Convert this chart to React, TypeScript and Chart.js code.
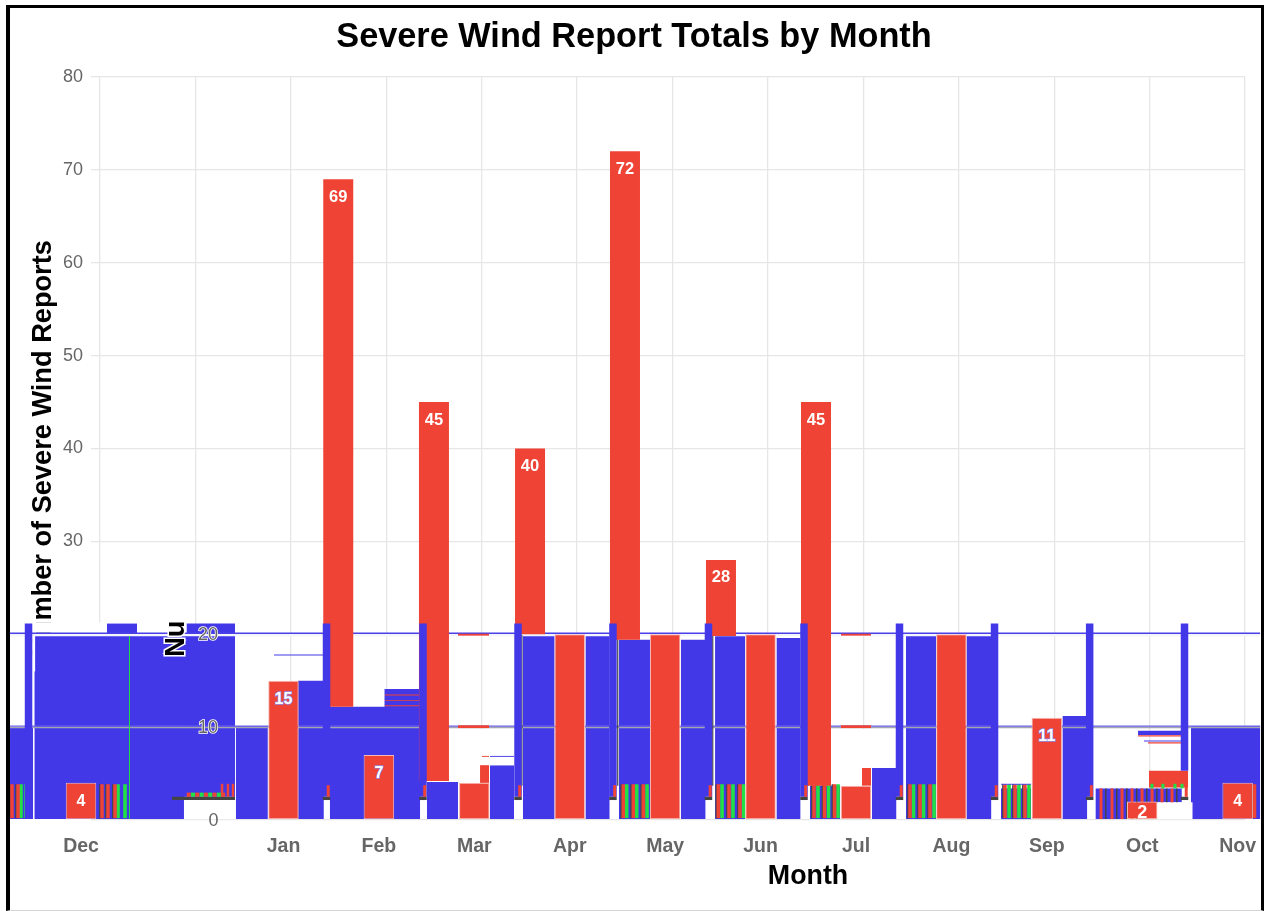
import React, { useEffect, useRef } from "react";
import { Chart, registerables } from "chart.js";

Chart.register(...registerables);

// Month labels and where each month's group sits on the month axis
const monthLabels = ["Dec", "Jan", "Feb", "Mar", "Apr", "May", "Jun", "Jul", "Aug", "Sep", "Oct", "Nov"];
const monthPositions = [-0.199, 1.923, 2.923, 3.923, 4.923, 5.923, 6.923, 7.923, 8.923, 9.923, 10.923, 11.923];

// Severe wind report counts
const groupRedValues = [4, 15, 7, 4, 20, 20, 20, 3.7, 20, 11, 2, 4];
const groupRedLabels = ["4", "15", "7", "", "", "", "", "", "", "11", "2", "4"];
const tallRedPositions = [2.497, 3.5, 4.507, 5.502, 6.508, 7.504];
const tallRedValues = [69, 45, 40, 72, 28, 45];
const tallRedFloors = [12.2, 4.2, 20, 19.4, 19.8, 3.7];

// Narrow blue columns
const stubPositions = [-0.749, 2.374, 3.385, 4.381, 5.376, 6.377, 7.378, 8.379, 9.375, 10.372, 11.366];
const stubFloors = [0.1, 2.5, 2.5, 2.5, 2.5, 2.5, 2.5, 2.5, 2.5, 2.5, 5.3];

// [month start, month end, low value, high value]
type Block = [number, number, number, number];
const blueBlocks: Block[] = [
  [-0.943, -0.702, 0.1, 10],
  [-0.686, 0.32, 0.1, 19.8],
  [0.073, 0.388, 19, 21.15],
  [0.3, 0.885, 0.1, 19.9],
  [0.875, 0.915, 2.5, 19.9],
  [0.909, 1.415, 2.5, 21.15],
  [1.425, 1.758, 0.1, 10.1],
  [2.075, 2.345, 0.1, 15],
  [2.41, 2.992, 0.1, 12.2],
  [2.982, 3.354, 0.1, 14.1],
  [3.427, 3.752, 0.1, 4.1],
  [4.087, 4.339, 0.1, 5.9],
  [4.433, 4.763, 0.1, 20],
  [5.09, 5.34, 0.1, 20],
  [5.439, 5.764, 0.1, 19.4],
  [6.089, 6.345, 0.1, 19.4],
  [6.446, 6.76, 0.1, 19.8],
  [7.092, 7.34, 0.1, 19.6],
  [7.441, 7.756, 0.1, 3.7],
  [8.091, 8.345, 0.1, 5.6],
  [8.447, 8.762, 0.1, 19.8],
  [9.083, 9.34, 0.1, 19.8],
  [9.443, 9.757, 0.1, 3.4],
  [10.089, 10.345, 0.1, 11.2],
  [10.435, 10.765, 0.1, 3.4],
  [10.755, 11.337, 1.9, 3.4],
  [11.434, 12.158, 0.1, 10.1],
];
const whiteBlocks: Block[] = [
  [0.88, 1.415, 0, 2.15],
  [-0.702, 0.073, 20.15, 21.3],
  [-0.712, -0.68, 16, 21.3],
  [3.658, 4.339, 5.9, 9.8],
  [3.658, 3.983, 4.1, 5.9],
  [7.766, 8.342, 5.6, 9.8],
  [7.766, 7.986, 3.7, 5.6],
  [11.085, 11.45, 0, 1.9],
];
const redBlocks: Block[] = [
  [3.983, 4.077, 4, 5.9],
  [7.986, 8.08, 3.7, 5.6],
  [3.752, 4.077, 19.85, 20.05],
  [3.752, 4.077, 9.9, 10.2],
  [7.766, 8.08, 19.85, 20.05],
  [7.766, 8.08, 9.9, 10.2],
  [10.994, 11.403, 3.5, 5.3],
  [10.879, 11.403, 9, 9.12],
  [10.983, 11.403, 8.25, 8.37],
  [2.987, 3.354, 13.4, 13.5],
  [2.987, 3.354, 12.8, 12.9],
  [2.987, 3.354, 12.25, 12.35],
  [4.003, 4.077, 6.8, 6.9],
];
const blueThinBlocks: Block[] = [
  [1.824, 2.34, 17.7, 17.82],
  [4.087, 4.339, 6.8, 6.9],
  [10.879, 11.337, 9.15, 9.6],
  [10.941, 11.337, 8.45, 8.55],
  [9.443, 9.757, 3.8, 3.9],
];
const ruleBlocks: [number, number, number, number, string][] = [
  [-0.943, 12.158, 20.02, 20.2, "#4a40ea"],
  [-0.943, 12.158, 19.78, 20.02, "#f4f4fb"],
  [-0.943, 12.158, 10.05, 10.17, "#6a60ea"],
  [-0.943, 12.158, 9.88, 10.05, "#a4a4b0"],
];
const darkBlocks: Block[] = [[0.755, 1.415, 2.15, 2.5]];

// Striped clusters along the baseline
const redStripes = [-0.922, -0.859, -0.744, 0.021, 0.084, 0.157, 5.484, 5.589, 5.694, 6.48, 6.592, 6.707, 7.483, 7.593, 7.698, 8.489, 8.594, 8.699, 9.485, 9.59, 9.694, 12.1];
const greenStripes = [-0.828, -0.776, 0.189, 0.262, 5.52, 5.625, 5.733, 6.519, 6.634, 6.744, 7.525, 7.635, 7.735, 8.526, 8.631, 8.741, 9.527, 9.631, 9.736];
const octStripes = [10.491, 10.606, 10.711, 10.816, 10.921, 11.026, 11.13, 11.235];
const octStripeFloors = [0.1, 0.1, 0.1, 0.1, 1.9, 1.9, 1.9, 1.9];
const octDashes = [11.025, 11.14, 11.266, 11.34];
const shortRedStripes = [0.93, 1.02, 1.11, 1.2, 1.29];
const shortGreenStripes = [0.975, 1.065, 1.155, 1.245];
const tallEdgeStripes = [1.279, 1.341, 1.394];
const darkVerticals = [4.422, 5.426, 6.422, 7.42];
const greenVerticals = [0.309];

const BLUE = "#4338e8";
const RED = "#ee4335";
const GREEN = "#22e045";
const DARK = "#444444";
const PX_PER_MONTH = 95.417;

function blockDataset(b: Block, color: string, layer: number) {
  return {
    type: "bar" as const,
    stack: "all",
    clip: false,
    order: 100 - layer,
    backgroundColor: color,
    borderWidth: 0,
    inflateAmount: 0,
    barThickness: (b[1] - b[0]) * PX_PER_MONTH,
    data: [{ x: (b[0] + b[1]) / 2, y: [b[2], b[3]] }],
  };
}
function columnDataset(xs: number[], lows: number[], highs: number[], width: number, color: string, layer: number, extra: object = {}) {
  return {
    type: "bar" as const,
    stack: "all",
    clip: false,
    order: 100 - layer,
    backgroundColor: color,
    borderWidth: 0,
    inflateAmount: 0,
    barThickness: width,
    data: xs.map((x, i) => ({ x, y: [lows[i], highs[i]] })),
    ...extra,
  };
}
const same = (xs: number[], v: number) => xs.map(() => v);

const datasets: any[] = [
  ...blueBlocks.map((b) => blockDataset(b, BLUE, 0)),
  ...whiteBlocks.map((b) => blockDataset(b, "#ffffff", 1)),
  ...ruleBlocks.map((b) => blockDataset([b[0], b[1], b[2], b[3]], b[4], 2)),
  ...darkBlocks.map((b) => blockDataset(b, DARK, 3)),
  columnDataset(redStripes, same(redStripes, 0.2), same(redStripes, 3.85), 3.5, RED, 3),
  columnDataset(redStripes.map((x) => x - 0.022), same(redStripes, 0.2), same(redStripes, 3.85), 1.6, DARK, 3),
  columnDataset(greenStripes, same(greenStripes, 0.2), same(greenStripes, 3.85), 3.6, GREEN, 3),
  columnDataset(greenVerticals, same(greenVerticals, 0.1), same(greenVerticals, 19.8), 1, GREEN, 3),
  columnDataset(octStripes, octStripeFloors, same(octStripes, 3.4), 3, RED, 3),
  columnDataset(octStripes.map((x) => x + 0.05), octStripeFloors, same(octStripes, 3.4), 1.5, DARK, 3),
  columnDataset(octDashes, same(octDashes, 3.4), same(octDashes, 3.9), 3, GREEN, 7),
  columnDataset(shortRedStripes, same(shortRedStripes, 2.5), same(shortRedStripes, 2.95), 4, RED, 4),
  columnDataset(shortGreenStripes, same(shortGreenStripes, 2.5), same(shortGreenStripes, 2.95), 4, GREEN, 4),
  columnDataset(tallEdgeStripes, same(tallEdgeStripes, 2.5), same(tallEdgeStripes, 3.9), 2.5, RED, 4),
  columnDataset(darkVerticals, same(darkVerticals, 3.7), same(darkVerticals, 19.9), 1.2, DARK, 3),
  columnDataset(tallRedPositions, tallRedFloors, tallRedValues, 30, RED, 5),
  columnDataset(monthPositions, same(monthPositions, 0), groupRedValues, 30.5, RED, 5, {
    borderWidth: 1,
    borderColor: "#f6b9b2",
    borderSkipped: false,
  }),
  columnDataset(stubPositions, stubFloors, same(stubPositions, 21.15), 7.5, BLUE, 6),
  columnDataset(stubPositions.slice(1).map((x) => x + 0.018), same(stubPositions.slice(1), 2.5), same(stubPositions.slice(1), 3.75), 3, RED, 6.5),
  columnDataset(stubPositions.slice(1), same(stubPositions.slice(1), 2.15), same(stubPositions.slice(1), 2.5), 7.5, DARK, 6.5),
  ...redBlocks.map((b) => blockDataset(b, RED, 6)),
  ...blueThinBlocks.map((b) => blockDataset(b, BLUE, 6)),
];
const tallRedIndex = datasets.findIndex((d) => d.data.length === tallRedValues.length && d.barThickness === 30);
const groupRedIndex = datasets.findIndex((d) => d.barThickness === 30.5);

const overlayPlugin = {
  id: "overlay",
  afterDatasetsDraw(chart: any) {
    const { ctx } = chart;
    const y = chart.scales.y;
    const x = chart.scales.x;
    ctx.save();
    ctx.textAlign = "center";
    ctx.textBaseline = "middle";
    // value labels inside the red bars
    ctx.font = "bold 16.5px 'Liberation Sans'";
    ctx.fillStyle = "#ffffff";
    chart.getDatasetMeta(tallRedIndex).data.forEach((bar: any, i: number) => {
      ctx.fillText(String(tallRedValues[i]), bar.x, bar.y + 18);
    });
    chart.getDatasetMeta(groupRedIndex).data.forEach((bar: any, i: number) => {
      const t = groupRedLabels[i];
      if (!t) return;
      const tinted = t === "15" || t === "7" || t === "11";
      const labelY = t === "2" ? bar.y + 12 : bar.y + 18.5;
      ctx.font = `bold ${t === "2" ? 18 : 16}px 'Liberation Sans'`;
      if (tinted) {
        ctx.strokeStyle = "#8f8cf0";
        ctx.lineWidth = 1.4;
        ctx.strokeText(t, bar.x, labelY);
      }
      ctx.fillStyle = "#ffffff";
      ctx.fillText(t, bar.x, labelY);
    });
    // low value tick labels
    ctx.font = "18px 'Liberation Sans'";
    [20, 10].forEach((v) => {
      ctx.strokeStyle = "#ffffff";
      ctx.lineWidth = 1.5;
      ctx.strokeText(String(v), 208, y.getPixelForValue(v) + 1);
      ctx.fillStyle = "#666666";
      ctx.fillText(String(v), 208, y.getPixelForValue(v) + 1);
    });
    ctx.fillStyle = "#666666";
    ctx.fillText("0", 213.5, y.getPixelForValue(0) + 1);
    // displaced start of the vertical title
    ctx.save();
    ctx.beginPath();
    ctx.rect(160, 622, 30, 40);
    ctx.clip();
    ctx.translate(177, (y.top + y.bottom) / 2);
    ctx.rotate(-Math.PI / 2);
    ctx.font = "bold 27.2px 'Liberation Sans'";
    ctx.strokeStyle = "#ffffff";
    ctx.lineWidth = 3;
    ctx.strokeText("Number of Severe Wind Reports", 0, 0);
    ctx.fillStyle = "#000000";
    ctx.fillText("Number of Severe Wind Reports", 0, 0);
    ctx.restore();
    // horizontal title
    ctx.font = "bold 26.8px 'Liberation Sans'";
    ctx.fillStyle = "#000000";
    ctx.fillText("Month", x.getPixelForValue(7.42), 877);
    ctx.restore();
  },
};

export default function App() {
  const ref = useRef<HTMLCanvasElement>(null);
  useEffect(() => {
    if (!ref.current) return;
    const gridColor = "#e6e6e6";
    const chart = new Chart(ref.current, {
      type: "bar",
      data: { datasets },
      plugins: [overlayPlugin],
      options: {
        responsive: false,
        animation: false,
        devicePixelRatio: 1,
        layout: { padding: { left: 23, right: 19, top: 0, bottom: 0 } },
        plugins: {
          legend: { display: false },
          tooltip: { enabled: false },
          title: {
            display: true,
            text: "Severe Wind Report Totals by Month",
            color: "#000000",
            font: { family: "'Liberation Sans'", size: 34.3, weight: "bold", lineHeight: 1.2 },
            padding: { top: 17, bottom: 18.84 },
          },
        },
        scales: {
          x: {
            type: "linear",
            stacked: true,
            offset: false,
            min: 0,
            max: 12,
            grid: { display: false },
            border: { display: false },
            afterBuildTicks: (s: any) => {
              s.ticks = monthPositions.map((value) => ({ value }));
            },
            afterFit: (s: any) => {
              s.height = 91;
            },
            ticks: {
              autoSkip: false,
              maxRotation: 0,
              padding: 7,
              color: "#666666",
              font: { family: "'Liberation Sans'", size: 19.5, weight: "bold" },
              callback: (v: any) => monthLabels[monthPositions.indexOf(v)] ?? "",
            },
          },
          xGrid: {
            type: "linear",
            axis: "x",
            position: "bottom",
            offset: false,
            min: 0,
            max: 12,
            afterFit: (s: any) => {
              s.height = 0;
            },
            grid: { color: gridColor, lineWidth: 1.3, drawTicks: false, offset: false },
            border: { display: false },
            ticks: { display: false, stepSize: 1 },
          },
          y: {
            stacked: false,
            min: 0,
            max: 80,
            afterFit: (s: any) => {
              s.width = 77;
            },
            grid: { color: gridColor, lineWidth: 1.3, tickLength: 9 },
            border: { display: false },
            ticks: {
              stepSize: 10,
              padding: 8,
              color: "#666666",
              font: { family: "'Liberation Sans'", size: 18 },
              callback: (v: any) => (v >= 30 ? String(v) : ""),
            },
            title: {
              display: true,
              text: "Number of Severe Wind Reports",
              color: "#000000",
              font: { family: "'Liberation Sans'", size: 27.2, weight: "bold" },
              padding: { top: 4, bottom: 0 },
            },
          },
        },
      } as any,
    });
    return () => chart.destroy();
  }, []);
  return (
    <div style={{ position: "fixed", left: 0, top: 0, width: 1264, height: 911, background: "#fff", overflow: "hidden" }}>
      <canvas ref={ref} width={1264} height={911} style={{ display: "block", filter: "blur(0.55px)" }} />
      <div
        style={{
          position: "absolute",
          left: 6,
          top: 5,
          width: 1258,
          height: 906,
          boxSizing: "border-box",
          borderLeft: "4px solid #000",
          borderTop: "3px solid #000",
          borderRight: "3px solid #000",
          borderBottom: "1px solid #d4d4d4",
          pointerEvents: "none",
        }}
      />
    </div>
  );
}
